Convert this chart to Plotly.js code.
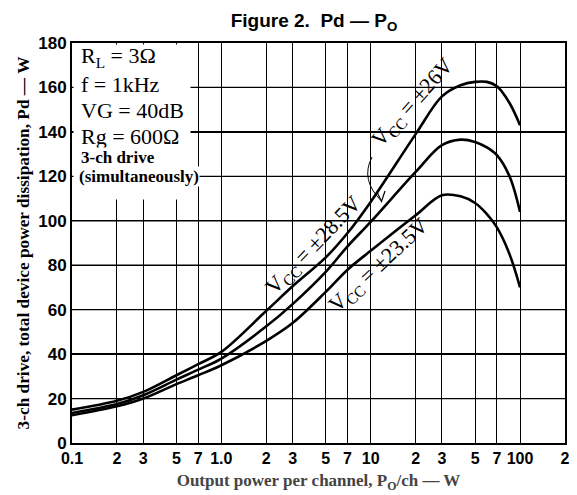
<!DOCTYPE html>
<html>
<head>
<meta charset="utf-8">
<script src="https://cdn.plot.ly/plotly-3.0.1.min.js"></script>
<style>html,body{margin:0;padding:0;background:#fff;}#chart{width:577px;height:495px;}</style>
</head>
<body>
<div id="chart"></div>
<script>
// ---- data ----
const outputPower = [0.1, 0.2, 0.3, 0.5, 0.7, 1, 2, 3, 5, 7, 10, 20, 30, 40, 50, 60, 70, 85, 100];
const pdVcc285 = [15, 19, 23, 30.5, 35.5, 41, 59.5, 70.5, 83.5, 94.5, 108.5, 139, 156, 161, 162.5, 162.5, 160.5, 153, 143];
const pdVcc26  = [13.5, 17.5, 21.5, 28.5, 33, 38, 52.5, 62.5, 77, 88.5, 99.5, 122, 134, 136.5, 135.5, 133, 129.5, 120, 104];
const pdVcc235 = [12.5, 16.5, 20, 26.5, 30.5, 35, 46, 54, 68, 78, 86.5, 102.5, 111.5, 111, 108, 103, 97, 85, 70];
const xTickVals = [0.1, 0.2, 0.3, 0.5, 0.7, 1, 2, 3, 5, 7, 10, 20, 30, 50, 70, 100, 200];
const xTickText = ["0.1", "2", "3", "5", "7", "1.0", "2", "3", "5", "7", "10", "2", "3", "5", "7", "100", "2"];
const yTickVals = [0, 20, 40, 60, 80, 100, 120, 140, 160, 180];
const seriesNames = ["V<sub>CC</sub> = ±28.5V", "V<sub>CC</sub> = ±26V", "V<sub>CC</sub> = ±23.5V"];

// ---- layout helpers ----
const W = 577, H = 495;
const M = {l: 72, r: 12, t: 43, b: 52};
const PW = W - M.l - M.r, PH = H - M.t - M.b;
function px(x, y) { return [(x - M.l) / PW, (H - M.b - y) / PH]; }

const serif = "Liberation Serif, Times New Roman, serif";
const sans = "Liberation Sans, Arial, sans-serif";

const lineStyle = {color: "#000", width: 2.6, shape: "spline", smoothing: 1};
const traces = [pdVcc285, pdVcc26, pdVcc235].map((ys, i) => ({
  type: "scatter", mode: "lines", x: outputPower, y: ys, name: seriesNames[i],
  line: lineStyle, showlegend: false, hoverinfo: "skip"
}));

function ann(text, x, y, opts) {
  const p = px(x, y);
  return Object.assign({text: text, xref: "paper", yref: "paper", x: p[0], y: p[1],
    showarrow: false, xanchor: "left", yanchor: "middle",
    font: {family: serif, size: 22, color: "#000"}}, opts || {});
}
const smallBold = {family: serif, size: 17, color: "#000", weight: "bold"};

const annotations = [
  ann(" ", 73, 44, {yanchor: "top", width: 116, height: 154, bgcolor: "#fff", borderpad: 0}),
  ann("R<sub>L</sub> = 3Ω", 79, 57),
  ann("f = 1kHz", 79, 84),
  ann("VG = 40dB", 79, 110),
  ann("Rg = 600Ω", 79, 136),
  ann("3-ch drive", 80, 157, {font: smallBold, bgcolor: "#fff", borderpad: 0}),
  ann("(simultaneously)", 78, 176, {font: smallBold, bgcolor: "#fff", borderpad: 0}),
  ann(seriesNames[0], 314, 246, {xanchor: "center", textangle: -46}),
  ann(seriesNames[1], 413, 103, {xanchor: "center", textangle: -48}),
  ann(seriesNames[2], 379, 266, {xanchor: "center", textangle: -43})
];

function pathFrom(points) {
  return points.map((pt, i) => {
    const p = px(pt[0], pt[1]);
    return (i === 0 ? "M " : "L ") + p[0].toFixed(4) + "," + p[1].toFixed(4);
  }).join(" ");
}
const arc0 = px(372, 157), arcC = px(360, 180), arc1 = px(381.5, 201);
const gridY = yTickVals.filter(v => v > 0 && v < 180).map(v => ({
  type: "line", xref: "paper", yref: "y", x0: 0, x1: 1, y0: v, y1: v,
  line: {color: "#000", width: 1.3}, layer: "above"
}));
const shapes = gridY.concat([
  {type: "path", xref: "paper", yref: "paper",
   path: "M " + arc0.join(",") + " Q " + arcC.join(",") + " " + arc1.join(","),
   line: {color: "#000", width: 1}},
  {type: "path", xref: "paper", yref: "paper",
   path: pathFrom([[377, 192], [381.5, 201.5], [385, 191]]),
   line: {color: "#000", width: 1.2}}
]);

const layout = {
  width: W, height: H,
  margin: M,
  paper_bgcolor: "#fff", plot_bgcolor: "#fff",
  title: {text: "Figure 2.  Pd — P<sub>O</sub>", font: {family: sans, size: 19, color: "#000", weight: "bold"},
          xref: "container", yref: "container", x: 314 / W, y: 1 - 20 / H, xanchor: "center", yanchor: "middle"},
  xaxis: {
    type: "log", range: [Math.log10(0.1), Math.log10(200)],
    tickvals: xTickVals, ticktext: xTickText, ticks: "",
    tickfont: {family: sans, size: 16, color: "#000", weight: "bold"},
    showgrid: true, gridcolor: "#000", gridwidth: 1,
    showline: true, linecolor: "#000", linewidth: 2, mirror: true, zeroline: false,
    title: {text: "Output power per channel, P<sub>O</sub>/ch — W", standoff: 8,
            font: {family: serif, size: 17, color: "#444", weight: "bold"}}
  },
  yaxis: {
    range: [0, 180], tickvals: yTickVals, ticks: "",
    tickfont: {family: sans, size: 17, color: "#000", weight: "bold"},
    showgrid: true, gridcolor: "#000", gridwidth: 1.3,
    showline: true, linecolor: "#000", linewidth: 2, mirror: true, zeroline: false,
    title: {text: "3-ch drive, total device power dissipation, Pd — W", standoff: 4,
            font: {family: serif, size: 17.3, color: "#000", weight: "bold"}}
  },
  annotations: annotations,
  shapes: shapes
};

Plotly.newPlot("chart", traces, layout, {staticPlot: true, displayModeBar: false});
</script>
</body>
</html>
